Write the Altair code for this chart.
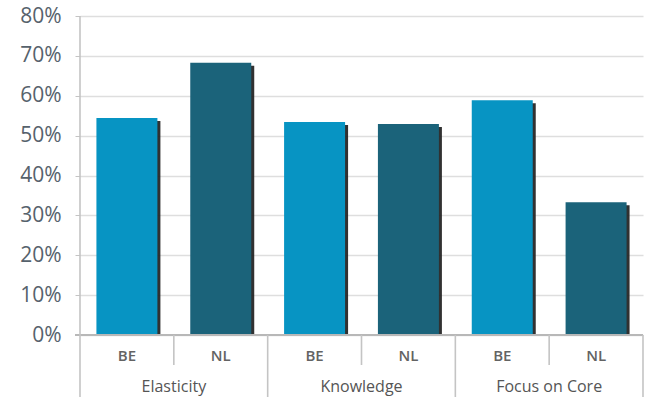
import altair as alt
import pandas as pd

# Survey results per driver, split by country
categories = ["Elasticity", "Knowledge", "Focus on Core"]
countries = ["BE", "NL"]
be_values = [54.4, 53.4, 58.9]
nl_values = [68.3, 52.9, 33.3]
tick_values = [0, 0.1, 0.2, 0.3, 0.4, 0.5, 0.6, 0.7, 0.8]

rows = []
for g, cat in enumerate(categories):
    for c, (country, vals) in enumerate(zip(countries, [be_values, nl_values])):
        rows.append({"category": cat, "country": country, "slot": g * 2 + c,
                     "share": vals[g] / 100})
bars_df = pd.DataFrame(rows)

groups_df = pd.DataFrame({"category": categories, "group": list(range(len(categories)))})
edges_df = pd.DataFrame({"edge": list(range(len(categories) * 2 + 1))})

x_scale = alt.Scale(domain=[0, len(categories) * 2], nice=False, zero=False)
y_scale = alt.Scale(domain=[0, 0.8], nice=False)

colors = alt.Scale(domain=countries, range=["#0794c3", "#1b637a"])

y_axis = alt.Axis(
    format=".0%",
    values=tick_values,
    tickCount=9,
    labelOverlap=False,
    labelFont="Open Sans",
    labelFontSize=21,
    labelColor="#56626c",
    labelPadding=14,
    tickSize=5,
    tickColor="#c4c4c4",
    domain=False,
    gridColor="#dedede",
    gridWidth=1.6,
)

base = alt.Chart(bars_df).transform_calculate(
    x0="datum.slot + 0.175", x1="datum.slot + 0.825", xm="datum.slot + 0.5"
)

bars = base.mark_bar().encode(
    x=alt.X("x0:Q", scale=x_scale, axis=None),
    x2="x1:Q",
    y=alt.Y("share:Q", scale=y_scale, title=None, axis=y_axis),
    y2=alt.datum(0),
    color=alt.Color("country:N", scale=colors, legend=None),
)

shadow = base.mark_bar(color="#1f1f1f", xOffset=3, x2Offset=3, yOffset=3, opacity=0.92).encode(
    x=alt.X("x0:Q", scale=x_scale, axis=None),
    x2="x1:Q",
    y=alt.Y("share:Q", scale=y_scale, title=None, axis=y_axis),
    y2=alt.datum(0),
)

country_labels = base.mark_text(
    font="Open Sans", fontSize=15, fontWeight=600, color="#636363", baseline="middle"
).encode(
    x=alt.X("xm:Q", scale=x_scale),
    y=alt.value(340),
    text="country:N",
)

category_labels = alt.Chart(groups_df).transform_calculate(
    xc="datum.group * 2 + 1"
).mark_text(
    font="Open Sans", fontSize=16, fontWeight=500, color="#555555", baseline="middle"
).encode(
    x=alt.X("xc:Q", scale=x_scale),
    y=alt.value(371),
    text="category:N",
)

edges = alt.Chart(edges_df).transform_calculate(is_group="datum.edge % 2 == 0")

group_rules = edges.transform_filter("datum.is_group && datum.edge > 0").mark_rule(
    color="#c4c4c4", strokeWidth=1.6
).encode(
    x=alt.X("edge:Q", scale=x_scale),
    y=alt.value(319),
    y2=alt.value(381),
)

axis_line = edges.transform_filter("datum.edge == 0").mark_rule(
    color="#c4c4c4", strokeWidth=1.6
).encode(
    x=alt.X("edge:Q", scale=x_scale),
    y=alt.value(0),
    y2=alt.value(381),
)

sub_rules = edges.transform_filter("!datum.is_group").mark_rule(
    color="#c4c4c4", strokeWidth=1.6
).encode(
    x=alt.X("edge:Q", scale=x_scale),
    y=alt.value(319),
    y2=alt.value(349),
)

baseline = alt.Chart(edges_df).mark_rule(color="#b8b8b8", strokeWidth=1.6).encode(
    x=alt.value(-5),
    x2=alt.value(563),
    y=alt.value(319),
)

chart = alt.layer(
    shadow, bars, baseline, axis_line, group_rules, sub_rules,
    country_labels, category_labels,
).properties(
    width=563,
    height=319,
    autosize=alt.AutoSizeParams(type="none"),
    padding={"left": 80, "top": 16, "right": 8, "bottom": 68},
    background="white",
).configure_view(stroke=None)

chart.save("out.html", embed_options={"renderer": "svg", "actions": False})
